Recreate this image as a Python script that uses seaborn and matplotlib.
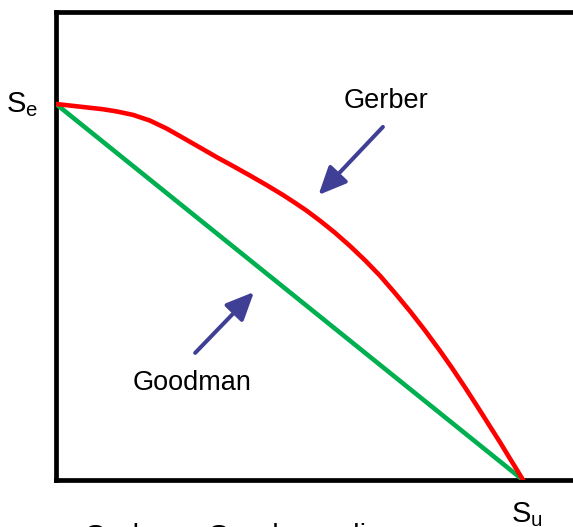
import matplotlib
matplotlib.use("Agg")
import matplotlib.pyplot as plt
import seaborn as sns
import pandas as pd

# Normalised mean stress (x / Su) against alternating stress (y / Se)
goodman_x = [0.0, 1.0]
goodman_y = [1.0, 0.0]

gerber_x = [0.0, 0.058, 0.101, 0.131, 0.165, 0.201, 0.238, 0.272, 0.310,
            0.345, 0.379, 0.415, 0.450, 0.486, 0.512, 0.537, 0.567, 0.597,
            0.629, 0.662, 0.694, 0.726, 0.758, 0.790, 0.822, 0.848, 0.876,
            0.903, 0.929, 0.951, 0.972, 0.987, 1.0]
gerber_y = [1.0, 0.992, 0.986, 0.980, 0.971, 0.956, 0.934, 0.910, 0.883,
            0.858, 0.835, 0.810, 0.785, 0.758, 0.737, 0.716, 0.688, 0.658,
            0.623, 0.584, 0.543, 0.497, 0.449, 0.398, 0.344, 0.298, 0.246,
            0.194, 0.143, 0.100, 0.057, 0.027, 0.0]

labels = ["Gerber", "Goodman"]
title = "Gerber – Goodman diagram"

sns.set_style("white")
plt.rcParams["font.family"] = ["Liberation Sans", "DejaVu Sans"]
plt.rcParams["mathtext.fontset"] = "custom"
plt.rcParams["mathtext.rm"] = "Liberation Sans"
plt.rcParams["text.color"] = "black"

W, H = 573, 527
fig = plt.figure(figsize=(W / 100, H / 100), dpi=100)
fig.patch.set_facecolor("white")

# axes box: left spine at x=56 px, top at y=12 px, bottom at y=480 px; right side runs off the figure
ax = fig.add_axes([56 / W, (H - 480) / H, (600 - 56) / W, (480 - 12) / H])
ax.set_xlim(0, (600 - 56) / 467)
ax.set_ylim(0, (480 - 12) / 376)

df_good = pd.DataFrame({"x": goodman_x, "y": goodman_y})
df_gerb = pd.DataFrame({"x": gerber_x, "y": gerber_y})

sns.lineplot(data=df_good, x="x", y="y", ax=ax, color="#00B050", lw=3.3,
             sort=False, estimator=None, solid_capstyle="round", zorder=3)
sns.lineplot(data=df_gerb, x="x", y="y", ax=ax, color="#FF0000", lw=3.3,
             sort=False, estimator=None, solid_capstyle="round",
             solid_joinstyle="round", zorder=4)

for side in ["left", "bottom", "top", "right"]:
    ax.spines[side].set_visible(True)
    ax.spines[side].set_color("black")
    ax.spines[side].set_linewidth(3.4)
ax.set_xticks([])
ax.set_yticks([])
ax.set_xlabel("")
ax.set_ylabel("")

arrow_color = "#3F3F96"
arrow_kw = dict(arrowstyle="-|>,head_length=1.0,head_width=0.45", lw=2.9,
                color=arrow_color, mutation_scale=17, shrinkA=0, shrinkB=0)
# Gerber arrow (tail upper right, tip at the curve)
ax.annotate("", xy=(0.562, 0.758), xytext=(0.700, 0.939), arrowprops=arrow_kw)
# Goodman arrow (tail lower left, tip at the line)
ax.annotate("", xy=(0.424, 0.500), xytext=(0.298, 0.338), arrowprops=arrow_kw)

def px(x, y):
    return x / W, (H - y) / H

fig.text(*px(386, 108), labels[0], fontsize=19.5, ha="center", va="baseline")
fig.text(*px(192, 390), labels[1], fontsize=19.5, ha="center", va="baseline")

fig.text(*px(6, 112), r"$\mathregular{S_e}$", fontsize=21, ha="left", va="baseline")
fig.text(*px(511, 522), r"$\mathregular{S_u}$", fontsize=21, ha="left", va="baseline")

fig.text(*px(84, 545), title, fontsize=21, ha="left", va="baseline")

fig.savefig("out.png", dpi=100)
